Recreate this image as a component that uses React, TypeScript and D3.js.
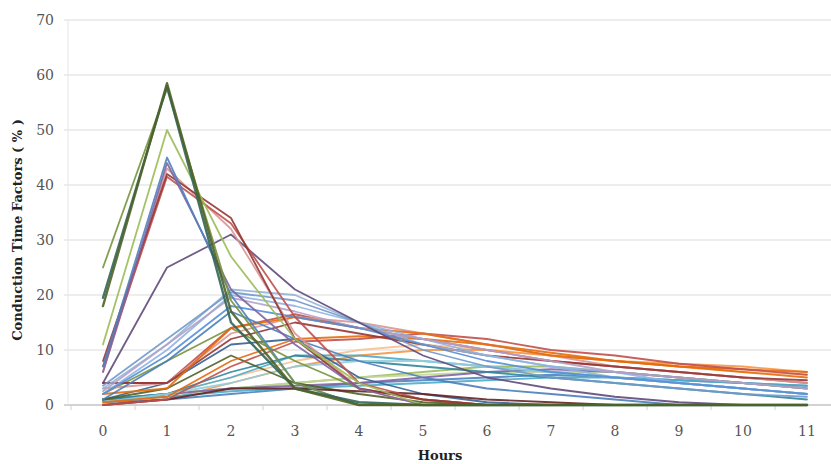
import React from "react";
import * as d3 from "d3";

const hours = [0, 1, 2, 3, 4, 5, 6, 7, 8, 9, 10, 11];
const yTicks = [0, 10, 20, 30, 40, 50, 60, 70];

// fast-peaking series (peak at hour 1)
const sPeak1 = [18, 58.5, 17, 3, 0, 0, 0, 0, 0, 0, 0, 0];
const sPeak2 = [19.5, 58, 15, 3, 0.5, 0, 0, 0, 0, 0, 0, 0];
const sPeak3 = [25, 57.5, 19, 4, 0, 0, 0, 0, 0, 0, 0, 0];
const sPeak4 = [11, 50, 27, 12, 4, 0, 0, 0, 0, 0, 0, 0];
const sPeak5 = [7, 45, 20, 4, 0, 0, 0, 0, 0, 0, 0, 0];
const sPeak6 = [6, 44, 21, 11, 3, 0, 0, 0, 0, 0, 0, 0];
const sPeak7 = [8, 42, 34, 12, 3, 1, 0, 0, 0, 0, 0, 0];
const sPeak8 = [7, 41.5, 33, 16, 4, 1, 0, 0, 0, 0, 0, 0];
const sPeak9 = [6, 43, 32, 13, 3, 0, 0, 0, 0, 0, 0, 0];
const sPeak10 = [4, 25, 31, 21, 15, 9, 5, 3, 1.5, 0.5, 0, 0];
// series peaking at hour 2
const sMid1 = [3, 11, 21, 20, 15, 11, 9, 7, 5, 4, 3, 2];
const sMid2 = [2, 10, 20, 18, 15, 12, 9, 7, 6, 4, 3, 2];
const sMid3 = [2.5, 11, 19.5, 17, 14, 12, 10, 8, 6, 5, 4, 3];
const sMid4 = [3.5, 12, 20.5, 19, 15, 10, 7, 5, 4, 3, 2, 1.5];
const sMid5 = [2, 9, 18, 16, 14, 11, 8, 6, 5, 4, 3, 2];
const sMid6 = [1, 8, 17, 12, 8, 5, 3, 2, 1, 0, 0, 0];
// series peaking at hour 3
const sLate1 = [4, 4, 14, 16.5, 14, 12, 10, 8, 7, 6, 5, 4];
const sLate2 = [3, 4, 13, 16, 15, 13, 11, 9, 7, 6, 5, 4];
const sLate3 = [4, 4, 12, 15, 13, 11, 9, 8, 7, 6, 5, 4.5];
const sLate4 = [2, 3, 14, 16, 14, 13, 11, 9, 8, 7, 6, 5];
// long, broad series
const sLong1 = [0.5, 1.5, 8, 12, 12.5, 12, 11, 9.5, 8, 7, 6.5, 6];
const sLong2 = [0, 1, 7, 11.5, 12, 13, 12, 10, 9, 7.5, 6.5, 5.5];
const sLong3 = [0.5, 2, 5, 8, 10, 11, 10, 9, 8, 7, 6, 5.5];
const sLong4 = [0, 1, 4, 7, 9, 10, 10, 9, 8, 7.5, 7, 6];
const sAqua1 = [1, 2, 5, 9, 9, 8, 7, 6, 5, 4, 3, 2];
const sAqua2 = [1, 2, 6, 9, 8, 7, 6, 5, 4, 3, 2, 1];
const sAqua3 = [0.5, 2, 4, 7, 8, 8, 7, 6, 5, 4, 3, 2];
const sSlow1 = [0.5, 2, 3, 4, 5, 6, 7, 7, 6, 5, 4, 3];
const sSlow2 = [1, 2, 3, 4, 5, 5.5, 6, 6, 6, 5, 4, 3];
const sSlow3 = [0.5, 1, 2, 3, 4, 4.5, 5, 5.5, 5, 4.5, 4, 3.5];
const sSlow4 = [1, 2, 3, 3.5, 4, 5, 6, 6.5, 6, 5, 4, 3];
const sSlow5 = [1, 1.5, 2.5, 3, 3.5, 4, 4.5, 5, 5, 4.5, 4, 3.5];
// series that fade out early
const sDrop1 = [1, 4, 11, 12, 5, 2, 0.5, 0, 0, 0, 0, 0];
const sDrop2 = [2, 8, 14, 8, 3, 1, 0, 0, 0, 0, 0, 0];
const sDrop3 = [1, 3, 9, 4, 2, 0.5, 0, 0, 0, 0, 0, 0];
const sDrop4 = [0, 1, 3, 3, 2.5, 2, 1, 0.5, 0, 0, 0, 0];

const seriesList = [
  sLong3, sLong4, sSlow1, sSlow2, sSlow3, sSlow4, sSlow5,
  sAqua1, sAqua2, sAqua3, sDrop1, sDrop2, sDrop3, sDrop4,
  sLong1, sLong2, sLate1, sLate2, sLate3, sLate4,
  sMid1, sMid2, sMid3, sMid4, sMid5, sMid6,
  sPeak10, sPeak9, sPeak8, sPeak7, sPeak6, sPeak5, sPeak4, sPeak3, sPeak2, sPeak1,
];
const seriesColors = [
  "#FAC090", "#F79646", "#9BBB59", "#C3D69B", "#4F81BD", "#8064A2", "#4BACC6",
  "#4BACC6", "#31859C", "#93CDDD", "#376092", "#77933C", "#4F6228", "#632523",
  "#E46C0A", "#C0504D", "#C0504D", "#D99694", "#953735", "#E46C0A",
  "#95B3D7", "#8EB4E3", "#B3A2C7", "#729ACA", "#558ED5", "#4A7EBB",
  "#604A7B", "#D99694", "#C0504D", "#943634", "#8064A2", "#4F81BD", "#9BBB59", "#77933C", "#31665A", "#4F6228",
];

export default function App() {
  const W = 831, H = 464;
  const x = d3.scalePoint<number>().domain(hours).range([103, 807]);
  const y = d3.scaleLinear().domain([0, 70]).range([405, 20]);
  const line = d3.line<number>().x((_, i) => x(hours[i]) as number).y((d) => y(d));
  const step = 64;
  const bandStart = 71;
  const font = "DejaVu Serif, serif";
  return (
    <svg width={W} height={H} style={{ position: "absolute", left: 0, top: 0, background: "#fff" }}>
      <rect width={W} height={H} fill="#fff" />
      {yTicks.map((t) => (
        <g key={t}>
          <line x1={64} x2={W} y1={y(t)} y2={y(t)} stroke={t === 0 ? "#a6a6a6" : "#dcdcdc"} strokeWidth={1.2} />
          <text x={54} y={y(t) + 5} textAnchor="end" fontFamily={font} fontSize={14} fill="#555">{t}</text>
        </g>
      ))}
      <line x1={68} x2={68} y1={y(70)} y2={y(0)} stroke="#e6e6e6" strokeWidth={1} />
      {d3.range(13).map((k) => (
        <line key={k} x1={bandStart + k * step} x2={bandStart + k * step} y1={405} y2={410} stroke="#d0d0d0" strokeWidth={1} />
      ))}
      {hours.map((h) => (
        <text key={h} x={x(h)} y={436} textAnchor="middle" fontFamily={font} fontSize={14} fill="#555">{h}</text>
      ))}
      <g fill="none" strokeLinejoin="round" strokeLinecap="round">
        {seriesList.map((s, i) => (
          <path key={i} d={line(s) || ""} stroke={seriesColors[i]} strokeWidth={i >= 34 ? 2.4 : 1.8} strokeOpacity={0.9} />
        ))}
      </g>
      <text x={440} y={460} textAnchor="middle" fontFamily={font} fontWeight="bold" fontSize={13} fill="#222">Hours</text>
      <text transform={`translate(22,230) rotate(-90)`} textAnchor="middle" fontFamily={font} fontWeight="bold" fontSize={13} fill="#222">Conduction Time Factors ( % )</text>
    </svg>
  );
}
